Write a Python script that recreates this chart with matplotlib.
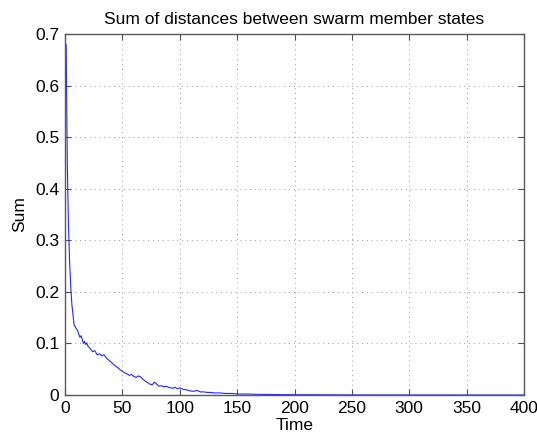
import matplotlib
matplotlib.use("Agg")
import matplotlib.pyplot as plt

time = [1, 2, 3, 4, 5, 6, 7, 8, 9, 10, 11, 12, 13, 14, 15, 16, 17, 18, 19, 20,
        22, 24, 26, 28, 30, 32, 34, 36, 38, 40, 42, 44, 46, 48, 50, 52, 54, 56, 58, 60,
        62, 64, 66, 68, 70, 72, 74, 76, 78, 80, 82, 84, 86, 88, 90, 92, 94, 96, 98, 100,
        103, 106, 109, 112, 115, 118, 121, 124, 127, 130, 135, 140, 145, 150,
        160, 170, 180, 200, 250, 300, 350, 400]
total = [0.68, 0.45, 0.33, 0.26, 0.21, 0.175, 0.155, 0.135, 0.132, 0.128,
         0.125, 0.118, 0.112, 0.115, 0.108, 0.100, 0.104, 0.098, 0.101, 0.095,
         0.090, 0.084, 0.086, 0.078, 0.080, 0.076, 0.078, 0.072, 0.068, 0.064,
         0.060, 0.056, 0.053, 0.049, 0.046, 0.043, 0.041, 0.038, 0.040, 0.036,
         0.034, 0.037, 0.035, 0.030, 0.027, 0.024, 0.021, 0.020, 0.025, 0.021,
         0.017, 0.018, 0.016, 0.017, 0.015, 0.014, 0.013, 0.015, 0.012, 0.014,
         0.011, 0.010, 0.008, 0.007, 0.009, 0.006, 0.006, 0.005, 0.005, 0.004,
         0.004, 0.003, 0.003, 0.002,
         0.0018, 0.0012, 0.001, 0.0006, 0.0002, 0.0001, 0.00005, 0.0]
xticks = [0, 50, 100, 150, 200, 250, 300, 350, 400]
yticks = [0, 0.1, 0.2, 0.3, 0.4, 0.5, 0.6, 0.7]

plt.rcParams['font.family'] = ['Liberation Sans', 'DejaVu Sans']
fig = plt.figure(figsize=(5.37, 4.37), dpi=100)
ax = fig.add_axes([65/537, 42/437, 459/537, 361/437])
ax.plot(time, total, color=(0.15, 0.15, 1.0), linewidth=0.8)
ax.set_xlim(0, 400)
ax.set_ylim(0, 0.7)
ax.set_xticks(xticks)
ax.set_yticks(yticks)
ax.set_xticklabels([str(v) for v in xticks])
ax.set_yticklabels(['0'] + ['%.1f' % v for v in yticks[1:]])
ax.grid(True, linestyle=(0, (1, 4)), color='0.6', linewidth=0.7)
ax.tick_params(direction='in', top=True, right=True, length=4, labelsize=12.5,
               color='0.3', labelcolor='black', pad=4)
for s in ax.spines.values():
    s.set_color('0.35')
    s.set_linewidth(1.0)
ax.set_title('Sum of distances between swarm member states', fontsize=12.5, pad=7)
ax.set_xlabel('Time', fontsize=12.5, labelpad=2)
ax.set_ylabel('Sum', fontsize=12.5, labelpad=6)
fig.savefig('out.png', dpi=100)
